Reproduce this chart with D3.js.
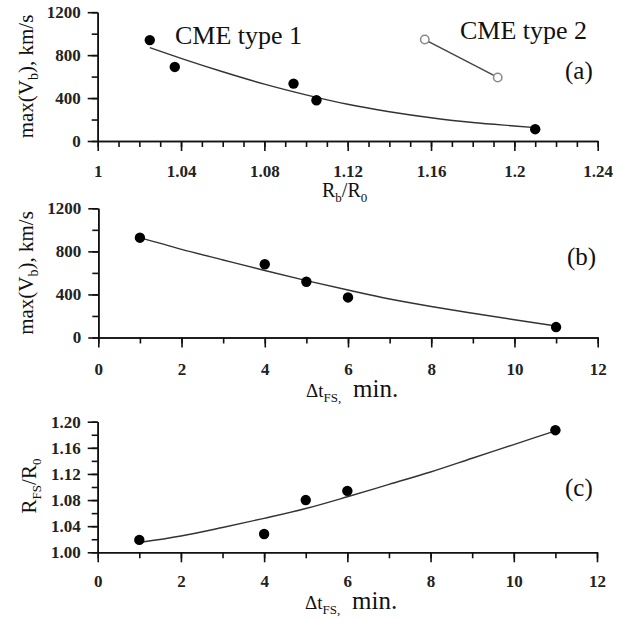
<!DOCTYPE html>
<html>
<head>
<meta charset="utf-8">
<script src="https://cdn.jsdelivr.net/npm/d3@7"></script>
<style>
	body { margin: 0; background: #fff; }
	svg { display: block; }
</style>
</head>
<body>
<div id="fig"></div>
<script>
// tick labels
var ticksRb = [1, 1.04, 1.08, 1.12, 1.16, 1.2, 1.24];
var ticksV = [0, 400, 800, 1200];
var ticksDt = [0, 2, 4, 6, 8, 10, 12];
var ticksRfs = [1.00, 1.04, 1.08, 1.12, 1.16, 1.20];

// (a) max(Vb) vs Rb/R0
var type1Rb = [1.025, 1.037, 1.094, 1.105, 1.21];
var type1V = [940, 690, 535, 380, 110];
var type1FitRb = [1.025, 1.04, 1.06, 1.08, 1.10, 1.12, 1.14, 1.16, 1.18, 1.20, 1.21];
var type1FitV = [870, 770, 645, 530, 430, 342, 273, 217, 172, 140, 125];
var type2Rb = [1.157, 1.192];
var type2V = [945, 592];

// (b) max(Vb) vs dt_FS
var dtFS = [1, 4, 5, 6, 11];
var dtV = [927, 680, 518, 372, 97];
var fitDt = [1, 2, 3, 4, 5, 6, 7, 8, 9, 10, 11];
var fitDtV = [927, 819, 720, 622, 528, 441, 358, 288, 225, 165, 107];

// (c) Rfs/R0 vs dt_FS
var rfs = [1.019, 1.028, 1.080, 1.094, 1.187];
var fitRfs = [1.015, 1.025, 1.038, 1.052, 1.067, 1.085, 1.104, 1.123, 1.144, 1.165, 1.186];

var SERIF = "'Liberation Serif', 'Times New Roman', serif";

var Fig = {};

Fig.charting = {
	BuildPanel : function(svg, box, xDomain, yDomain) {
		var panel = {
			g : svg.append("g"),
			box : box
		};

		panel.x = d3.scaleLinear().domain(xDomain).range([box.left, box.right]);
		panel.y = d3.scaleLinear().domain(yDomain).range([box.bottom, box.top]);

		return panel;
	},

	AddAxes : function(panel, xMajor, xMinorStep, xFmt, yMajor, yMinorStep, yFmt) {
		var x = panel.x, y = panel.y, box = panel.box;
		var xd = x.domain(), yd = y.domain();

		// minor ticks first, no labels
		var xMinor = d3.range(xd[0], xd[1] + xMinorStep / 2, xMinorStep);
		var yMinor = d3.range(yd[0], yd[1] + yMinorStep / 2, yMinorStep);

		panel.g.append("g")
			   .attr("transform", "translate(0," + box.bottom + ")")
			   .call(d3.axisBottom(x).tickValues(xMinor).tickSize(6).tickSizeOuter(0).tickFormat(""))
			   .call(this.StyleAxis);

		panel.g.append("g")
			   .attr("transform", "translate(" + box.left + ",0)")
			   .call(d3.axisLeft(y).tickValues(yMinor).tickSize(6).tickSizeOuter(0).tickFormat(""))
			   .call(this.StyleAxis);

		var xa = panel.g.append("g")
					    .attr("transform", "translate(0," + box.bottom + ")")
					    .call(d3.axisBottom(x).tickValues(xMajor).tickSize(10).tickSizeOuter(0).tickFormat(xFmt))
					    .call(this.StyleAxis);

		xa.selectAll("text").attr("y", box.labelOffset).attr("dy", 0);

		panel.g.append("g")
			   .attr("transform", "translate(" + box.left + ",0)")
			   .call(d3.axisLeft(y).tickValues(yMajor).tickSize(10).tickPadding(7).tickSizeOuter(0).tickFormat(yFmt))
			   .call(this.StyleAxis);
	},

	StyleAxis : function(g) {
		g.attr("font-family", SERIF)
		 .attr("font-size", 17)
		 .attr("font-weight", "bold");

		g.selectAll("path.domain, line")
		 .attr("stroke", "#111")
		 .attr("stroke-width", 1.6);

		g.selectAll("text").attr("fill", "#222");
	},

	AddFit : function(panel, xs, ys, color) {
		var line = d3.line()
					 .x(d => panel.x(d[0]))
					 .y(d => panel.y(d[1]))
					 .curve(d3.curveMonotoneX);

		panel.g.append("path")
			   .attr("d", line(d3.zip(xs, ys)))
			   .attr("fill", "none")
			   .attr("stroke", color || "#333")
			   .attr("stroke-width", 1.4);
	},

	AddDots : function(panel, xs, ys, open) {
		panel.g.selectAll(null)
			   .data(d3.zip(xs, ys))
			   .enter().append("circle")
			   .attr("cx", d => panel.x(d[0]))
			   .attr("cy", d => panel.y(d[1]))
			   .attr("r", open ? 4.2 : 5.2)
			   .attr("fill", open ? "#fff" : "#000")
			   .attr("stroke", open ? "#888" : "none")
			   .attr("stroke-width", 1.5);
	},

	// parts: [text, size, sub]
	AddText : function(svg, x, y, parts, opts) {
		opts = opts || {};

		var t = svg.append("text")
				   .attr("font-family", SERIF)
				   .attr("fill", "#111")
				   .attr("text-anchor", opts.anchor || "start");

		if (opts.rotate) t.attr("transform", "translate(" + x + "," + y + ") rotate(-90)");

		else t.attr("x", x).attr("y", y);

		var shift = 0;

		parts.forEach(function(p) {
			var dy = p[2] ? 5 : 0;

			t.append("tspan")
			 .attr("font-size", p[1])
			 .attr("dy", dy - shift)
			 .text(p[0]);

			shift = dy;
		});

		return t;
	},

	// "Δt_FS, min." split in two so "min." clears the tick label above
	AddTimeLabel : function(svg, x, y) {
		this.AddText(svg, x, y, [["\u0394t", 19], ["FS,", 13, 1]]);
		this.AddText(svg, x + 47, y, [["min.", 25]]);
	}
};

var svg = d3.select("#fig").append("svg").attr("width", 628).attr("height", 619);
var C = Fig.charting;

// panel (a)
var pa = C.BuildPanel(svg, { left : 97.7, right : 597.7, top : 12.2, bottom : 141, labelOffset : 36 }, [1, 1.24], [0, 1200]);

C.AddAxes(pa, ticksRb, 0.01, d => String(d), ticksV, 200, d => String(d));
C.AddFit(pa, type1FitRb, type1FitV);
C.AddFit(pa, type2Rb, type2V, "#444");
C.AddDots(pa, type1Rb, type1V, false);
C.AddDots(pa, type2Rb, type2V, true);

C.AddText(svg, 175, 43.5, [["CME type 1", 26]]);
C.AddText(svg, 460, 38.5, [["CME type 2", 26]]);
C.AddText(svg, 565, 79, [["(a)", 25]]);
C.AddText(svg, 322, 197, [["R", 20], ["b", 13, 1], ["/R", 20], ["0", 13, 1]]);
C.AddText(svg, 33, 76.5, [["max(V", 21], ["b", 14, 1], ["), km/s", 21]], { rotate : true, anchor : "middle" });

// panel (b)
var pb = C.BuildPanel(svg, { left : 98.3, right : 597.7, top : 208.3, bottom : 337.5, labelOffset : 37 }, [0, 12], [0, 1200]);

C.AddAxes(pb, ticksDt, 1, d => String(d), ticksV, 200, d => String(d));
C.AddFit(pb, fitDt, fitDtV);
C.AddDots(pb, dtFS, dtV, false);

C.AddText(svg, 567, 265, [["(b)", 25]]);
C.AddTimeLabel(svg, 306, 396.5);
C.AddText(svg, 33, 273, [["max(V", 21], ["b", 14, 1], ["), km/s", 21]], { rotate : true, anchor : "middle" });

// panel (c)
var pc = C.BuildPanel(svg, { left : 97.7, right : 597, top : 421.7, bottom : 552.3, labelOffset : 35 }, [0, 12], [1.0, 1.2]);

C.AddAxes(pc, ticksDt, 1, d => String(d), ticksRfs, 0.02, d => d.toFixed(2));
C.AddFit(pc, fitDt, fitRfs);
C.AddDots(pc, dtFS, rfs, false);

C.AddText(svg, 565, 496, [["(c)", 25]]);
C.AddTimeLabel(svg, 305, 608.5);
C.AddText(svg, 36, 486, [["R", 21], ["FS", 13, 1], ["/R", 21], ["0", 13, 1]], { rotate : true, anchor : "middle" });
</script>
</body>
</html>
